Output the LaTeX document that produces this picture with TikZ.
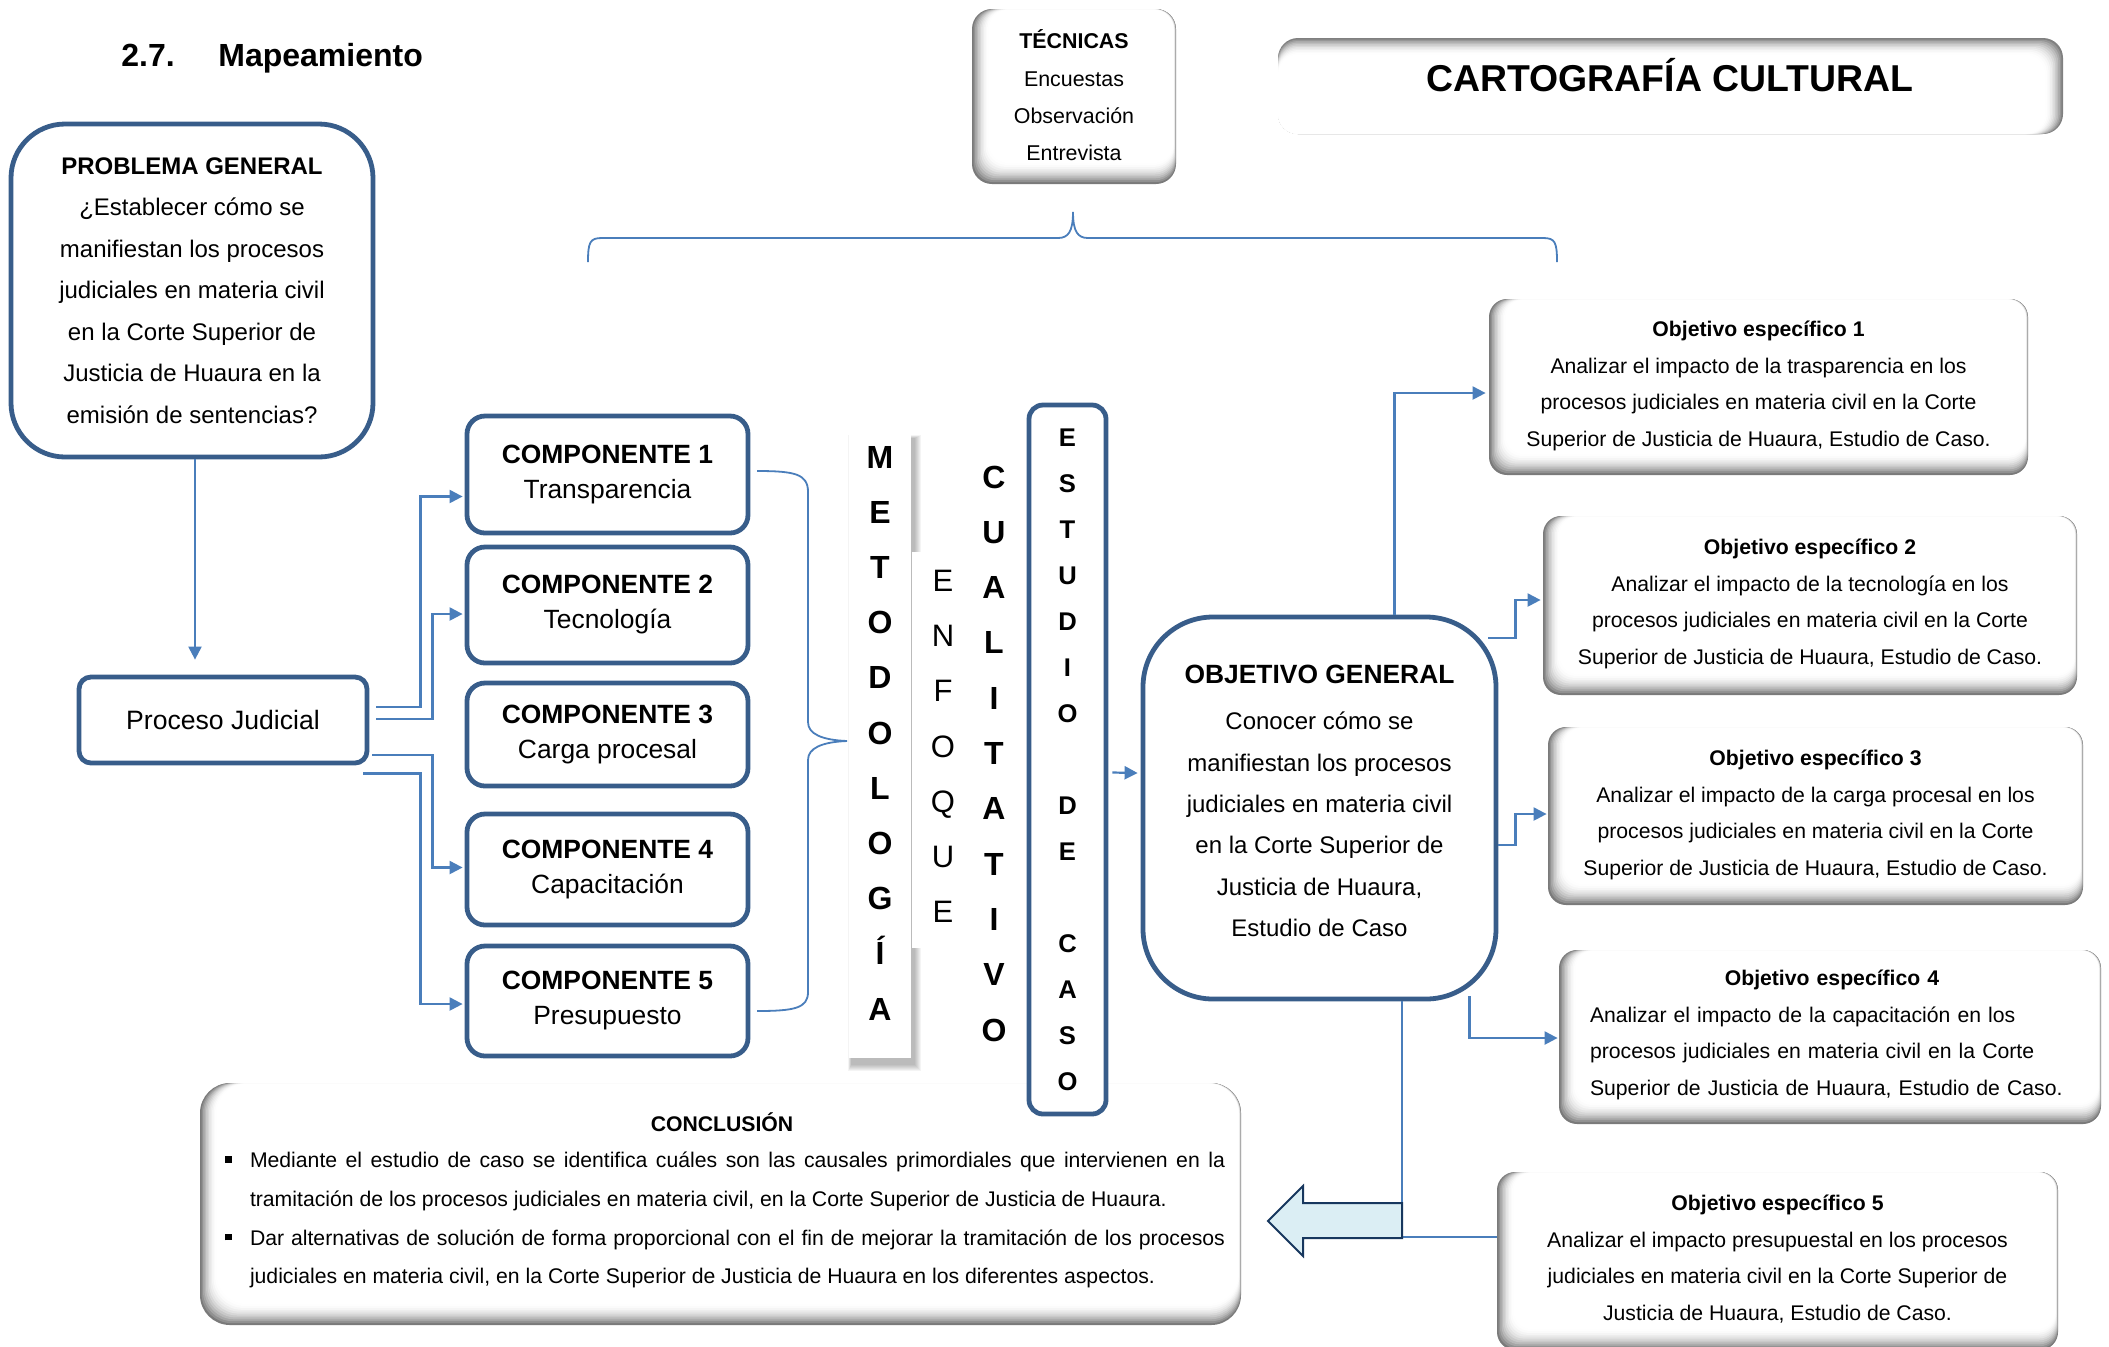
\documentclass[tikz,border=0pt]{standalone}
\usepackage{fontspec}
\setmainfont{Liberation Sans}
\usetikzlibrary{calc,arrows.meta}
\definecolor{boxblue}{RGB}{56,93,138}
\definecolor{connblue}{RGB}{74,126,187}
\definecolor{arrfill}{RGB}{219,238,244}
\definecolor{arrline}{RGB}{23,55,94}
% bevelled box shaded on left and bottom
\newcommand\bevelLB[5]{%
  \foreach \i in {0,...,11}{%
    \pgfmathsetmacro\shd{52*(1-\i/11)*(1-\i/11)}%
    \fill[black!\shd!white, rounded corners=#5] ({#1+1.5*\i},{#2+0.05*\i}) rectangle ({#3-0.22*\i},{#4-1.9*\i});
  }}
% bevelled box shaded on top and right
\newcommand\bevelTR[5]{%
  \foreach \i in {0,...,11}{%
    \pgfmathsetmacro\shd{50*(1-\i/11)*(1-\i/11)}%
    \fill[black!\shd!white, rounded corners=#5] ({#1},{#2+1.5*\i}) rectangle ({#3-1.6*\i},{#4});
  }}
\newcommand\bul{\leavevmode\llap{\rule[0.22em]{3.4pt}{3.4pt}\hspace{9pt}}}
\begin{document}
\begin{tikzpicture}[x=0.5pt,y=-0.5pt,
  conn/.style={draw=connblue, line width=1.1pt},
  arr/.style={-{Triangle[length=6.5pt,width=6.5pt]}},
  bluebox/.style={draw=boxblue, line width=2.4pt, fill=white, inner sep=0pt, align=center},
  comp/.style={bluebox, rounded corners=9pt, minimum width=140.5pt, font=\fontsize{13.2}{17.5}\selectfont},
  plain/.style={inner sep=0pt, align=center},
  objfont/.style={font=\fontsize{10.6}{18.25}\selectfont}]
\useasboundingbox (0,0) rectangle (2109,1346);

% title
\node[anchor=west, inner sep=0pt, font=\fontsize{16}{19}\selectfont\bfseries] (title) at (121,58) {\makebox[48.5pt][l]{2.7.}Mapeamiento};

% TECNICAS
\bevelLB{972}{9}{1176}{184}{10pt}
\node[plain, minimum width=102pt, minimum height=87.5pt, font=\fontsize{10.7}{18.7}\selectfont] (tec) at (1074,95.5)
  {\textbf{TÉCNICAS}\\Encuestas\\Observación\\Entrevista};

% CARTOGRAFIA CULTURAL
\bevelTR{1278}{38}{2063}{134}{10pt}
\node[plain, font=\fontsize{18.7}{22}\selectfont\bfseries] (carto) at (1670,75) {CARTOGRAFÍA CULTURAL};

% top brace
\draw[connblue, line width=0.9pt] (588,262) .. controls (588,242) and (590,238) .. (602,238) -- (1058,238)
  .. controls (1068,238) and (1073,232) .. (1073,212) .. controls (1073,232) and (1078,238) .. (1088,238)
  -- (1543,238) .. controls (1555,238) and (1557,242) .. (1557,262);

% conclusion (drawn early: ESTUDIO box lies over it)
\bevelLB{200}{1083}{1241}{1325}{15pt}
\node[plain, font=\fontsize{10.6}{13}\selectfont\bfseries] (conct) at (722,1122) {CONCLUSIÓN};
\node[inner sep=0pt, text width=487.5pt, align=justify, font=\fontsize{10.6}{19.4}\selectfont] (concb) at (737.5,1220)
  {\hyphenpenalty=10000\exhyphenpenalty=10000
   \bul Mediante el estudio de caso se identifica cuáles son las causales primordiales que intervienen en la\linebreak tramitación de los procesos judiciales en materia civil, en la Corte Superior de Justicia de Huaura.\par
   \bul Dar alternativas de solución de forma proporcional con el fin de mejorar la tramitación de los procesos\linebreak judiciales en materia civil, en la Corte Superior de Justicia de Huaura en los diferentes aspectos.\par};

% PROBLEMA GENERAL
\node[bluebox, rounded corners=27pt, minimum width=181pt, minimum height=166.5pt, font=\fontsize{12}{20.75}\selectfont] (pg) at (192,290.5)
  {\textbf{PROBLEMA GENERAL}\\¿Establecer cómo se\\manifiestan los procesos\\judiciales en materia civil\\en la Corte Superior de\\Justicia de Huaura en la\\emisión de sentencias?};

% Proceso Judicial
\node[bluebox, rounded corners=6pt, minimum width=144pt, minimum height=43pt, font=\fontsize{13.3}{17}\selectfont] (pj) at (223,720) {Proceso Judicial};

\draw[conn,arr] ($(pg.south)+(3,0)$) -- ($(pg.south |- pj.north)+(3,-15)$);

% components
\node[comp, minimum height=58.5pt] (c1) at (607.5,474.5) {\textbf{COMPONENTE 1}\\Transparencia};
\node[comp, minimum height=58pt] (c2) at (607.5,605) {\textbf{COMPONENTE 2}\\Tecnología};
\node[comp, minimum height=51.5pt] (c3) at (607.5,734.5) {\textbf{COMPONENTE 3}\\Carga procesal};
\node[comp, minimum height=55.5pt] (c4) at (607.5,869.5) {\textbf{COMPONENTE 4}\\Capacitación};
\node[comp, minimum height=55pt] (c5) at (607.5,1001) {\textbf{COMPONENTE 5}\\Presupuesto};

\draw[conn,arr] ($(pj.east)+(7,-13)$) -- ++(44,0) |- ($(c1.west)+(-2,22)$);
\draw[conn,arr] ($(pj.east)+(7,-1)$) -- ++(56,0) |- ($(c2.west)+(-2,9)$);
\draw[conn,arr] ($(pj.east)+(3,35)$) -- ++(60,0) |- ($(c4.west)+(-2,-2)$);
\draw[conn,arr] ($(pj.south east)+(-6,8)$) -- ++(57,0) |- ($(c5.west)+(-2,3)$);

% left brace
\draw[connblue, line width=0.9pt] (757,471) .. controls (795,471) and (808,474) .. (808,492) -- (808,722)
  .. controls (808,734) and (822,740) .. (847,741) .. controls (822,742) and (808,748) .. (808,760)
  -- (808,992) .. controls (808,1008) and (795,1011) .. (757,1011);

% METODOLOGIA column with shadow
\foreach \i in {0,...,6}{\fill[black,opacity=0.045] ({851-0.5*\i},{438-0.5*\i}) rectangle ({915+\i},{1065+\i});}
\fill[white] (912,552) rectangle (978,948);
\node[fill=white, inner sep=0pt, minimum width=31pt, minimum height=312.5pt] (met) at (880,745.5) {};
\node[plain, font=\fontsize{16}{27.6}\selectfont\bfseries] (mett) at (880,733)
  {M\\E\\T\\O\\D\\O\\L\\O\\G\\Í\\A};

% ENFOQUE
\node[plain, font=\fontsize{15.5}{27.6}\selectfont] (enf) at (943,746.5) {E\\N\\F\\O\\Q\\U\\E};

% CUALITATIVO
\node[plain, font=\fontsize{16}{27.65}\selectfont\bfseries] (cual) at (994,753.5) {C\\U\\A\\L\\I\\T\\A\\T\\I\\V\\O};

% ESTUDIO DE CASO
\node[bluebox, rounded corners=7pt, minimum width=38.5pt, minimum height=354.5pt, font=\fontsize{12.8}{23}\selectfont\bfseries] (est) at (1067.5,759.5)
  {E\\S\\T\\U\\D\\I\\O\\\mbox{}\\D\\E\\\mbox{}\\C\\A\\S\\O};

% OBJETIVO GENERAL
\node[bluebox, rounded corners=35pt, minimum width=176.5pt, minimum height=191pt] (og) at (1319.5,808) {};
\node[plain, font=\fontsize{12}{20.7}\selectfont] (ogt) at (1319.5,801)
  {{\fontsize{13.2}{20.7}\selectfont\bfseries OBJETIVO GENERAL}\\[2.3pt]Conocer cómo se\\manifiestan los procesos\\judiciales en materia civil\\en la Corte Superior de\\Justicia de Huaura,\\Estudio de Caso};

\draw[conn,arr] ($(est.east)+(4,13)$) -- ($(og.west)+(-3,-35)$);

% specific objectives
\bevelLB{1489}{299}{2028}{475}{9pt}
\node[plain, objfont, minimum width=269.5pt, minimum height=88pt] (o1) at (1758.5,386)
  {\textbf{Objetivo específico 1}\\Analizar el impacto de la trasparencia en los\\procesos judiciales en materia civil en la Corte\\Superior de Justicia de Huaura, Estudio de Caso.};
\bevelLB{1543}{516}{2077}{695}{9pt}
\node[plain, objfont, minimum width=267pt, minimum height=89.5pt] (o2) at (1810,604)
  {\textbf{Objetivo específico 2}\\Analizar el impacto de la tecnología en los\\procesos judiciales en materia civil en la Corte\\Superior de Justicia de Huaura, Estudio de Caso.};
\bevelLB{1548}{727}{2083}{905}{9pt}
\node[plain, objfont, minimum width=267.5pt, minimum height=89pt] (o3) at (1815.5,815)
  {\textbf{Objetivo específico 3}\\Analizar el impacto de la carga procesal en los\\procesos judiciales en materia civil en la Corte\\Superior de Justicia de Huaura, Estudio de Caso.};
\bevelLB{1559}{950}{2101}{1124}{9pt}
\node[inner sep=0pt, minimum width=271pt, minimum height=87pt] (o4) at (1830,1037) {};
\node[inner sep=0pt, objfont, text width=242pt, align=left] (o4t) at (1832,1035)
  {\makebox[\linewidth][c]{\textbf{Objetivo específico 4}}\\Analizar el impacto de la capacitación en los\\procesos judiciales en materia civil en la Corte\\Superior de Justicia de Huaura, Estudio de Caso.};
\bevelLB{1497}{1172}{2058}{1350}{9pt}
\node[plain, objfont, minimum width=280.5pt, minimum height=89pt] (o5) at (1777.5,1259)
  {\textbf{Objetivo específico 5}\\Analizar el impacto presupuestal en los procesos\\judiciales en materia civil en la Corte Superior de\\Justicia de Huaura, Estudio de Caso.};

% connectors from objetivo general
\draw[conn,arr] ($(og.north)+(75,0)$) |- ($(o1.west)+(-3,7)$);
\draw[conn,arr] ($(og.north east)+(-10,23)$) -- ++(27,0) |- ($(o2.west)+(-2,-4)$);
\draw[conn,arr] ($(og.east)+(0,37)$) -- ++(17,0) |- ($(o3.west)+(-1,-1)$);
\draw[conn,arr] ($(og.south east)+(-29,-5)$) |- ($(o4.west)+(-1,1)$);
\draw[conn] ($(og.south)+(82.5,0)$) |- ($(o5.west)+(0,-22)$);

% big block arrow
\draw[arrline, fill=arrfill, line width=1pt] (1402,1203) -- (1303,1203) -- (1303,1186) -- (1268,1221)
  -- (1303,1256) -- (1303,1238) -- (1402,1238) -- cycle;
\end{tikzpicture}
\end{document}
